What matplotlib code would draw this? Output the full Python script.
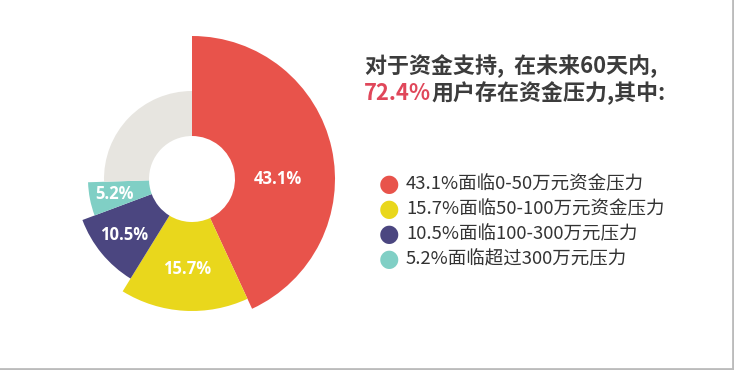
import matplotlib.pyplot as plt
import numpy as np
from matplotlib.lines import Line2D

plt.rcParams['font.family'] = ['Noto Sans CJK SC', 'DejaVu Sans']

# shares (percent) and outer radii (px) of each slice, clockwise from top
labels = ['43.1%', '15.7%', '10.5%', '5.2%', '']
shares = [43.1, 15.7, 10.5, 5.2, 25.5]
radii = [143, 132, 117, 104, 88]
colors = ['#E8534B', '#E9D71C', '#4B4680', '#80CFC5', '#E7E5E0']
label_r = [86, 90, 88, 79, 0]

legend_text = ['43.1%面临0-50万元资金压力',
               '15.7%面临50-100万元资金压力',
               '10.5%面临100-300万元压力',
               '5.2%面临超过300万元压力']

W, H = 734, 370
fig = plt.figure(figsize=(W / 100, H / 100), dpi=100)
fig.patch.set_facecolor('white')

cx, cy, R = 192, 370 - 179, 145
ax = fig.add_axes([(cx - R) / W, (cy - R) / H, 2 * R / W, 2 * R / H], projection='polar')
ax.set_theta_zero_location('N')
ax.set_theta_direction(-1)

widths = np.array(shares) / 100 * 2 * np.pi
starts = np.concatenate([[0], np.cumsum(widths)[:-1]])
hole = 43
ax.bar(starts, np.array(radii) - hole, width=widths, bottom=hole, align='edge',
       color=colors, edgecolor='none')
ax.set_ylim(0, R)
ax.axis('off')

for s, w, lab, lr in zip(starts, widths, labels, label_r):
    if not lab:
        continue
    ang = s + w / 2
    if lab == '43.1%':
        ang = np.pi / 2
    ax.text(ang, lr, lab, color='white', fontsize=12, fontweight='bold',
            ha='center', va='center', family=['Open Sans', 'DejaVu Sans'])

# title
fs = 15.8
fig.text(365 / W, 1 - 66 / H, '对于资金支持,  在未来60天内,', fontsize=fs,
         fontweight='bold', color='#3C3C3C', va='center', ha='left')
t1 = fig.text(364 / W, 1 - 93 / H, '72.4%', fontsize=fs, fontweight='bold',
              color='#E0475A', va='center', ha='left')
fig.canvas.draw()
bb = t1.get_window_extent()
fig.text(bb.x1 / W, 1 - 93 / H, '用户存在资金压力,其中:', fontsize=fs,
         fontweight='bold', color='#3C3C3C', va='center', ha='left')

# legend
for i, (txt, c) in enumerate(zip(legend_text, colors)):
    y = 1 - (184 + 25 * i) / H
    fig.text(389 / W, y, '\u25cf', color=c, fontsize=17, ha='center', va='center',
             family=['DejaVu Sans'])
    fig.text(406 / W, y, txt, fontsize=13.3, color='#333333', ha='left', va='center')

# thin frame on right and bottom edge
fig.add_artist(Line2D([0, 1], [0.003, 0.003], transform=fig.transFigure,
                      color='#BBBBBB', linewidth=2))
fig.add_artist(Line2D([0.999, 0.999], [0, 1], transform=fig.transFigure,
                      color='#BBBBBB', linewidth=2))

fig.savefig('out.png', dpi=100, facecolor='white')
